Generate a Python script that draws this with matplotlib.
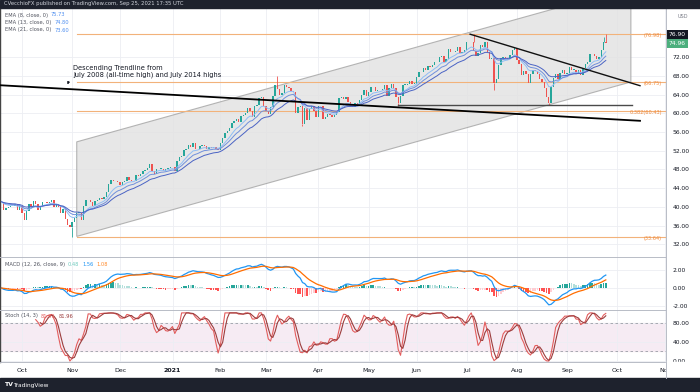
import numpy as np
import pandas as pd
import matplotlib
matplotlib.use("Agg")
import matplotlib.pyplot as plt
from matplotlib.patches import Rectangle, Polygon
from matplotlib.ticker import FormatStrFormatter
from matplotlib.transforms import blended_transform_factory

# --- data: daily closes (Sep 18 2020 -> Sep 24 2021) ---
sep20 = [41.1, 39.3, 39.8, 39.9, 40.3, 40.2, 40.6, 39.3, 40.2]
oct20 = [38.7, 37.1, 39.2, 40.7, 40.0, 41.2, 40.6, 39.4, 40.2, 41.0, 41.0,
         40.9, 41.1, 41.5, 40.0, 40.6, 39.9, 38.6, 39.6, 37.4, 36.2, 35.8]
nov20 = [36.8, 37.7, 38.8, 38.8, 37.1, 40.3, 41.4, 41.5, 41.1, 40.1, 41.3,
         41.4, 41.8, 41.7, 42.2, 43.1, 44.9, 45.7, 45.6, 45.5, 45.3]
dec20 = [44.6, 45.3, 45.6, 46.3, 45.8, 45.6, 45.5, 46.8, 46.6, 47.0, 47.6,
         47.8, 48.4, 49.1, 47.7, 47.0, 48.1, 48.2, 48.2, 47.6, 48.0, 48.4, 48.5]
jan21 = [48.5, 47.6, 49.9, 50.6, 50.8, 52.2, 52.3, 53.2, 52.9, 53.6, 52.4,
         52.4, 53.0, 53.3, 53.1, 52.3, 52.8, 52.6, 52.9, 52.3, 52.2]
feb21 = [53.6, 54.8, 55.7, 56.2, 56.9, 58.0, 58.4, 58.7, 58.2, 59.5, 59.6,
         60.1, 61.1, 60.5, 59.2, 61.5, 61.7, 63.2, 63.5, 61.5]
mar21 = [60.6, 59.8, 61.3, 63.8, 66.1, 65.1, 64.0, 64.4, 66.0, 65.6, 65.4,
         64.8, 64.6, 60.0, 61.4, 61.6, 57.8, 61.2, 58.6, 61.0, 61.6, 60.6, 59.2]
apr21 = [61.5, 61.5, 58.7, 59.3, 59.8, 59.6, 59.3, 59.7, 60.2, 63.2, 63.5,
         63.1, 63.4, 62.4, 61.4, 61.4, 62.1, 61.9, 62.9, 63.9, 65.0, 63.6]
may21 = [64.5, 65.7, 65.6, 64.7, 64.9, 65.0, 65.3, 66.1, 63.8, 65.4, 66.3,
         65.5, 63.4, 62.1, 63.6, 66.1, 66.1, 66.2, 66.9, 66.3, 66.3]
jun21 = [67.7, 68.8, 68.8, 69.6, 69.2, 70.1, 70.0, 70.3, 70.9, 70.9, 72.1,
         72.2, 71.0, 71.6, 73.7, 73.1, 73.1, 73.3, 74.1, 72.9, 73.0, 73.5]
jul21 = [75.2, 75.2, 75.2, 73.4, 72.2, 72.9, 74.6, 74.1, 75.3, 73.1, 71.7,
         71.8, 66.4, 67.4, 70.3, 71.9, 72.1, 71.9, 71.7, 72.4, 73.6, 74.0]
aug21 = [71.3, 70.6, 68.2, 69.1, 68.3, 66.5, 68.3, 69.3, 69.1, 68.4, 67.3,
         66.6, 65.5, 63.5, 62.3, 65.6, 67.5, 68.4, 67.4, 68.7, 69.2, 68.5]
sep21 = [68.6, 70.0, 69.3, 69.3, 68.4, 69.3, 68.1, 69.7, 70.5, 71.0, 72.6,
         72.6, 72.3, 71.5, 72.0, 73.6, 75.2, 74.96]

# wicks that stick out of the bodies (bar index -> price)
wick_highs = {121: 67.98, 207: 76.98, 264: 76.3, 265: 76.9}
wick_lows = {31: 33.64, 132: 57.3, 174: 61.6, 216: 65.0, 240: 61.74}

month_labels = ['Oct', 'Nov', 'Dec', '2021', 'Feb', 'Mar', 'Apr', 'May',
                'Jun', 'Jul', 'Aug', 'Sep', 'Oct', 'Nov']

# drawings on the chart (bar index, price)
fib_levels = [76.98, 66.75, 60.43, 33.64]
fib_labels = ['(76.98)', '(66.75)', '0.382(60.43)', '(33.64)']
channel_bars = [33, 276]
channel_upper = [53.9, 86.9]
channel_lower = [33.7, 66.7]
trend_2008_bars, trend_2008_px = [-0.7, 280], [66.0, 58.4]
trend_jul_bars, trend_jul_px = [205.5, 280], [76.9, 65.9]
aug_low_bars, aug_low_px = [174, 276.5], [61.74, 61.74]

ema_legend = [('EMA (8, close, 0)', '75.73'),
              ('EMA (13, close, 0)', '74.80'),
              ('EMA (21, close, 0)', '73.60')]
macd_values = ['0.48', '1.56', '1.08']
stoch_values = ['81.91', '81.96']

# --- derived series ---
closes = np.array(sep20 + oct20 + nov20 + dec20 + jan21 + feb21 + mar21 +
                  apr21 + may21 + jun21 + jul21 + aug21 + sep21)
n = len(closes)
idx = np.arange(n)
opens = np.r_[closes[0], closes[:-1]]
c = pd.Series(closes)

emas = [c.ewm(span=s, adjust=False).mean() for s in (8, 13, 21)]
macd = c.ewm(span=12, adjust=False).mean() - c.ewm(span=26, adjust=False).mean()
signal = macd.ewm(span=9, adjust=False).mean()
hist = (macd - signal).values
k_raw = 100 * (c - c.rolling(14).min()) / (c.rolling(14).max() - c.rolling(14).min())
k = k_raw.rolling(3).mean()
d = k.rolling(3).mean()

all_days = pd.bdate_range('2020-09-18', '2021-11-30')
month_pos = [i for i in range(1, len(all_days))
             if all_days[i].month != all_days[i - 1].month][:len(month_labels)]

# --- layout in pixels ---
W, H = 700, 392
def rect(x0, y0, x1, y1):
    return [x0 / W, 1 - y1 / H, (x1 - x0) / W, (y1 - y0) / H]

fig = plt.figure(figsize=(7, 3.92), dpi=100)
fig.patch.set_facecolor('white')
ax = fig.add_axes(rect(0, 8, 666, 257))
ax_m = fig.add_axes(rect(0, 257, 666, 310), sharex=ax)
ax_s = fig.add_axes(rect(0, 310, 666, 362), sharex=ax)

TXT = '#131722'
GRID = '#eceef3'
for a in (ax, ax_m, ax_s):
    a.set_facecolor('white')
    a.grid(True, color=GRID, lw=0.6)
    a.set_axisbelow(True)
    a.yaxis.tick_right()
    a.tick_params(axis='y', length=0, labelsize=4.3, pad=5, colors=TXT)
    a.tick_params(axis='x', length=0)
    a.yaxis.set_major_formatter(FormatStrFormatter('%.2f'))
    for s in a.spines.values():
        s.set_color('#b8bcc6')
        s.set_linewidth(0.7)
    a.spines['left'].set_color('#444444')
    a.spines['left'].set_linewidth(1.0)

ax.set_xlim(-0.65, 291.4)
ax.set_xticks(month_pos)
ax_s.set_xticklabels(month_labels, fontsize=4.5, color=TXT)
for lab in ax_s.get_xticklabels():
    if lab.get_text() == '2021':
        lab.set_fontweight('bold')
ax_s.tick_params(axis='x', pad=4)
plt.setp(ax.get_xticklabels(), visible=False)
plt.setp(ax_m.get_xticklabels(), visible=False)

# --- main panel ---
ax.set_ylim(29.3, 82.5)
ax.set_yticks(range(32, 76, 4))

chan = Polygon([(channel_bars[0], channel_lower[0]), (channel_bars[0], channel_upper[0]),
                (channel_bars[1], channel_upper[1]), (channel_bars[1], channel_lower[1])],
               closed=True, fc='#e2e2e2', ec='#a3a3a3', lw=0.8, alpha=0.8, zorder=1)
ax.add_patch(chan)

FIB = '#f2b27a'
for lvl, lab in zip(fib_levels, fib_labels):
    ax.plot([channel_bars[0], 291.4], [lvl, lvl], color=FIB, lw=0.8, zorder=2)
    ax.text(289.5, lvl - 0.35, lab, color='#f08a3c', fontsize=3.6,
            ha='right', va='center', zorder=6)

UP, DOWN = '#26a69a', '#ef5350'
up = closes >= opens
ccol = np.where(up, UP, DOWN)
ax.bar(idx, np.maximum(np.abs(closes - opens), 0.08), bottom=np.minimum(opens, closes),
       width=0.62, color=ccol, linewidth=0, zorder=3)
for i, hi in wick_highs.items():
    ax.vlines(i, max(opens[i], closes[i]), hi, color=ccol[i], lw=0.6, zorder=3)
for i, lo in wick_lows.items():
    ax.vlines(i, lo, min(opens[i], closes[i]), color=ccol[i], lw=0.6, zorder=3)

for e, col in zip(emas, ['#8fbdf5', '#6f8fdc', '#4a63c4']):
    ax.plot(idx, e, color=col, lw=0.7, zorder=4)

ax.plot(trend_2008_bars, trend_2008_px, color='black', lw=1.3, zorder=5)
ax.plot(trend_jul_bars, trend_jul_px, color='#111111', lw=1.0, zorder=5)
ax.plot(aug_low_bars, aug_low_px, color='#4a4a4a', lw=1.0, zorder=5)

ax.text(31.4, 69.6, 'Descending Trendline from', fontsize=4.8, color=TXT, va='center', zorder=6)
ax.text(31.4, 68.2, 'July 2008 (all-time high) and July 2014 highs', fontsize=4.8,
        color=TXT, va='center', zorder=6)
ax.annotate('', xy=(28.6, 65.6), xytext=(29.8, 67.3),
            arrowprops=dict(arrowstyle='-|>', lw=0.6, color=TXT, mutation_scale=3.5), zorder=6)

bt = blended_transform_factory(ax.transAxes, ax.transData)
ax.text(1.004, 76.9, '76.90', transform=bt, fontsize=4.3, color='white', va='center',
        ha='left', bbox=dict(boxstyle='square,pad=0.35', fc='#131722', ec='none'), zorder=7)
ax.text(1.004, 74.96, '74.96', transform=bt, fontsize=4.3, color='white', va='center',
        ha='left', bbox=dict(boxstyle='square,pad=0.35', fc='#4caf7d', ec='none'), zorder=7)

fig.canvas.draw()
renderer = fig.canvas.get_renderer()

def legend_line(x_px, y_px, label, vals, cols, fs=3.7):
    t = fig.text(x_px / W, 1 - y_px / H, label, fontsize=fs, color='#50535e', va='center')
    x = t.get_window_extent(renderer).x1 + 3
    for v, col in zip(vals, cols):
        tv = fig.text(x / W, 1 - y_px / H, v, fontsize=fs, color=col, va='center')
        x = tv.get_window_extent(renderer).x1 + 3

for j, (lab, val) in enumerate(ema_legend):
    legend_line(5, 15 + 7.5 * j, lab, [val], ['#4f8ff0'])

# --- MACD ---
ax_m.set_ylim(-2.44, 3.44)
ax_m.set_yticks([-2, 0, 2])
prev = np.r_[hist[0], hist[:-1]]
hcol = np.where(hist >= 0, np.where(hist >= prev, '#26a69a', '#b2dfdb'),
                np.where(hist < prev, '#ff5252', '#ffcdd2'))
ax_m.bar(idx, hist, width=0.7, color=hcol, linewidth=0, zorder=2)
ax_m.plot(idx, macd, color='#2196f3', lw=0.9, zorder=3)
ax_m.plot(idx, signal, color='#ff6d00', lw=0.9, zorder=3)
legend_line(5, 264.5, 'MACD (12, 26, close, 9)', macd_values,
            ['#6fcabd', '#2196f3', '#ff8a2a'])

# --- Stochastic ---
ax_s.set_ylim(-2, 106)
ax_s.set_yticks([0, 40, 80])
ax_s.axhspan(20, 80, color='#f6ebf3', zorder=0)
for lvl in (20, 80):
    ax_s.axhline(lvl, color='#9a9da6', lw=0.6, ls=(0, (3, 3)), zorder=1)
ax_s.plot(idx, k, color='#e35d5d', lw=0.8, zorder=3)
ax_s.plot(idx, d, color='#9c3d3d', lw=0.8, zorder=3)
legend_line(5, 316, 'Stoch (14, 3)', stoch_values, ['#e35d5d', '#9c3d3d'])

# --- frame: header, footer, price-scale corner ---
fig.add_artist(Rectangle((0, 1 - 8 / H), 1, 8 / H, transform=fig.transFigure,
                         color='#1e222d', zorder=10))
fig.text(4 / W, 1 - 4 / H, 'CVecchioFX published on TradingView.com, Sep 25, 2021 17:35 UTC',
         fontsize=3.8, color='#d1d4dc', va='center', zorder=11)
fig.add_artist(Rectangle((666 / W, 14 / H), 34 / W, 16 / H, transform=fig.transFigure,
                         color='white', zorder=10))
fig.add_artist(plt.Line2D([666 / W, 666 / W], [14 / H, 30 / H], transform=fig.transFigure,
                          color='#b8bcc6', lw=0.7, zorder=11))
fig.add_artist(Rectangle((0, 0), 1, 14 / H, transform=fig.transFigure,
                         color='#1e222d', zorder=10))
fig.text(4 / W, 7 / H, 'TV', fontsize=4.5, color='white', weight='bold', va='center', zorder=11)
fig.text(13 / W, 7 / H, 'TradingView', fontsize=4.2, color='white', va='center', zorder=11)
fig.text(683 / W, 1 - 16 / H, 'USD', fontsize=3.6, color='#787b86', ha='center', va='center')

fig.savefig('out.png', dpi=100, facecolor=fig.get_facecolor())
